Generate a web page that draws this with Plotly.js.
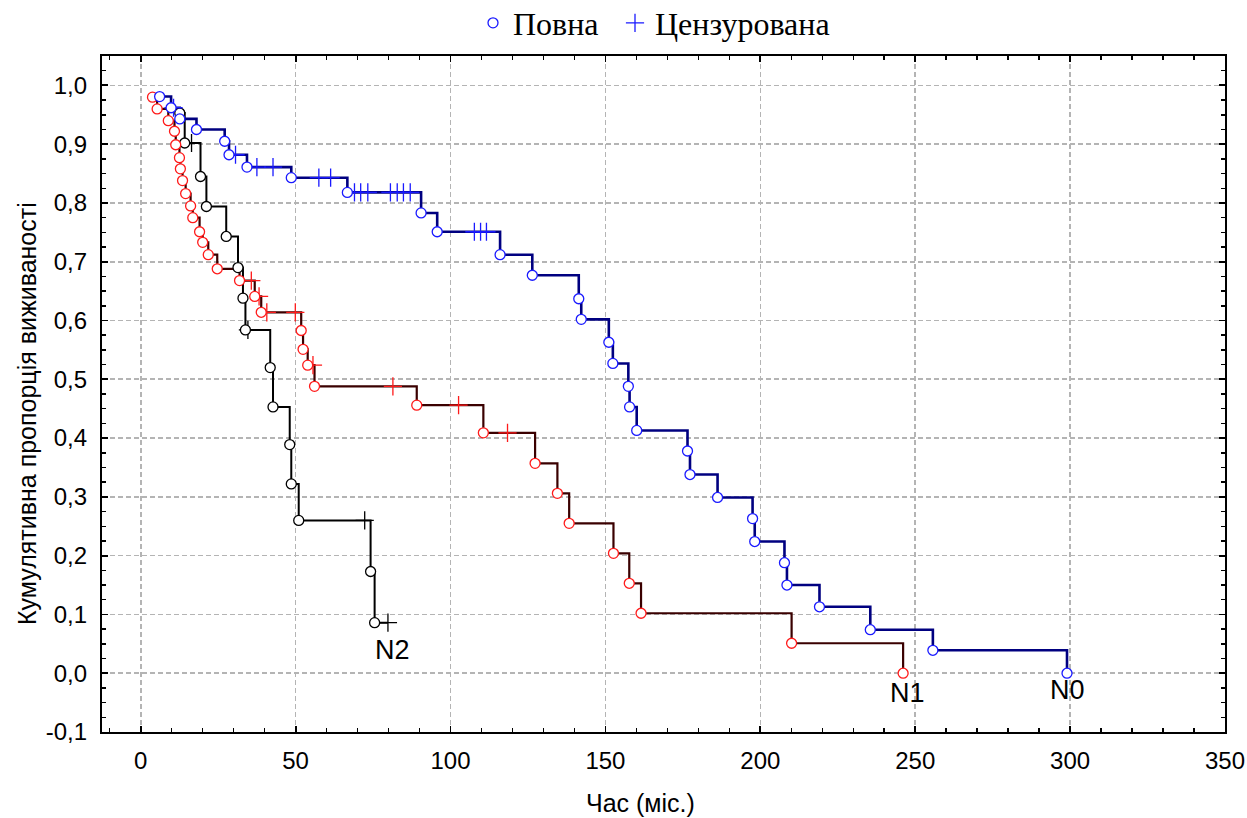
<!DOCTYPE html>
<html>
<head>
<meta charset="utf-8">
<script src="https://cdn.plot.ly/plotly-3.0.1.min.js"></script>
<style>html,body{margin:0;padding:0;background:#fff;}#chart{width:1247px;height:818px;}</style>
</head>
<body>
<div id="chart"></div>
<script>
// ---- Data ----
// Group N0 (blue)
const n0EventT = [6.1, 9.8, 12.6, 18.0, 27.1, 28.5, 34.3, 48.6, 66.7, 90.5, 95.7, 116.0, 126.4, 141.4, 142.2, 151.1, 152.4, 157.4, 157.8, 160.1, 176.5, 177.3, 186.2, 197.5, 198.2, 207.8, 208.6, 219.1, 235.5, 255.7, 299.0];
const n0EventS = [0.981, 0.962, 0.943, 0.925, 0.905, 0.882, 0.861, 0.843, 0.818, 0.783, 0.751, 0.712, 0.677, 0.637, 0.602, 0.563, 0.527, 0.488, 0.453, 0.413, 0.378, 0.338, 0.299, 0.263, 0.224, 0.188, 0.150, 0.113, 0.074, 0.039, 0.0];
const n0CensT  = [10.6, 30.6, 37.5, 42.7, 57.5, 61.3, 69.0, 71.0, 73.3, 80.6, 82.8, 84.8, 87.0, 107.7, 109.7, 111.6];

// Group N1 (red)
const n1EventT = [3.8, 5.3, 8.9, 10.9, 11.3, 12.5, 12.8, 13.5, 14.5, 16.1, 16.8, 19.0, 20.0, 21.8, 24.7, 31.9, 36.8, 38.9, 51.8, 52.4, 53.9, 56.1, 89.1, 110.6, 127.3, 134.5, 138.3, 152.6, 157.7, 161.5, 210.1, 246.1];
const n1EventS = [0.980, 0.960, 0.940, 0.922, 0.899, 0.877, 0.858, 0.838, 0.816, 0.795, 0.775, 0.751, 0.733, 0.712, 0.688, 0.668, 0.641, 0.614, 0.583, 0.551, 0.524, 0.488, 0.456, 0.409, 0.357, 0.306, 0.255, 0.204, 0.153, 0.102, 0.051, 0.0];
const n1CensT  = [35.7, 38.2, 40.7, 49.9, 55.6, 81.4, 102.6, 118.4];

// Group N2 (black)
const n2EventT = [12.6, 14.2, 19.3, 21.2, 27.6, 31.4, 33.0, 33.8, 41.8, 42.7, 48.1, 48.6, 51.0, 74.2, 75.5];
const n2EventS = [0.953, 0.902, 0.845, 0.794, 0.743, 0.690, 0.638, 0.584, 0.520, 0.453, 0.389, 0.322, 0.260, 0.173, 0.086];
const n2CensT  = [16.4, 34.6, 72.3, 79.8];

const xTicks = [0, 50, 100, 150, 200, 250, 300, 350];
const yTicks = [-0.1, 0, 0.1, 0.2, 0.3, 0.4, 0.5, 0.6, 0.7, 0.8, 0.9, 1.0];
const yTickText = ['-0,1', '0,0', '0,1', '0,2', '0,3', '0,4', '0,5', '0,6', '0,7', '0,8', '0,9', '1,0'];
const groupLabels = ['N0', 'N1', 'N2'];
const legendNames = ['Повна', 'Цензурована'];

// ---- helpers ----
function survAt(evT, evS, t) {
  let s = 1;
  for (let i = 0; i < evT.length; i++) { if (evT[i] <= t) s = evS[i]; }
  return s;
}
function stepLine(evT, evS, cT) {
  const pts = evT.map((t, i) => [t, evS[i], 0]);
  cT.forEach(t => pts.push([t, survAt(evT, evS, t), 1]));
  pts.sort((a, b) => a[0] - b[0] || a[2] - b[2]);
  return {x: pts.map(p => p[0]), y: pts.map(p => p[1])};
}

const groups = [
  {evT: n0EventT, evS: n0EventS, cT: n0CensT, line: '#000080', mark: '#1a1aff', lw: 2.6},
  {evT: n1EventT, evS: n1EventS, cT: n1CensT, line: '#3a0000', mark: '#ff1a1a', lw: 2.2},
  {evT: n2EventT, evS: n2EventS, cT: n2CensT, line: '#000000', mark: '#000000', lw: 2.0}
];

const traces = [];
[2, 1, 0].forEach(gi => {
  const g = groups[gi];
  const l = stepLine(g.evT, g.evS, g.cT);
  traces.push({x: l.x, y: l.y, mode: 'lines', line: {shape: 'hv', color: g.line, width: g.lw},
    showlegend: false, hoverinfo: 'skip'});
});
[2, 1, 0].forEach(gi => {
  const g = groups[gi];
  traces.push({x: g.cT, y: g.cT.map(t => survAt(g.evT, g.evS, t)), mode: 'markers',
    name: legendNames[1], showlegend: gi === 0, legendrank: 2,
    marker: {symbol: 'cross-thin', size: 13, color: g.mark, line: {color: g.mark, width: 1.3}}});
  const ev = {x: g.evT, y: g.evS, mode: 'markers',
    name: legendNames[0], showlegend: gi === 0, legendrank: 1,
    marker: {symbol: 'circle', size: 10, color: '#ffffff', line: {color: g.mark, width: 1.3}}};
  if (gi === 0) ev.legendwidth = 97;
  traces.push(ev);
});

const tickFont = {family: 'Liberation Sans, Arial, sans-serif', size: 24, color: '#000'};
const titleFont = {family: 'Liberation Sans, Arial, sans-serif', size: 25, color: '#000'};
const nFont = {family: 'Liberation Sans, Arial, sans-serif', size: 27, color: '#000'};
const layout = {
  width: 1247, height: 818,
  margin: {l: 102, r: 22, t: 56, b: 86, autoexpand: false},
  paper_bgcolor: '#fff', plot_bgcolor: '#fff',
  showlegend: true,
  legend: {orientation: 'h', xref: 'container', yref: 'container', x: 473 / 1247, xanchor: 'left',
    y: 1 - 23 / 818, yanchor: 'middle',
    font: {family: 'Liberation Serif, Times New Roman, serif', size: 32, color: '#000'},
    traceorder: 'normal', itemsizing: 'trace', bgcolor: 'rgba(0,0,0,0)'},
  xaxis: {range: [-12.5, 350], tickvals: xTicks, ticktext: xTicks.map(String),
    showgrid: true, gridcolor: '#b4b4b4', gridwidth: 1.6, griddash: '5px,3px',
    showline: true, linecolor: '#000', linewidth: 2.2, mirror: 'ticks',
    ticks: 'inside', ticklen: 6, tickwidth: 1.8, tickcolor: '#000',
    minor: {dtick: 10, tick0: 0, ticks: 'inside', ticklen: 4, tickwidth: 1.5, tickcolor: '#000', showgrid: false},
    zeroline: false, tickfont: tickFont, ticklabelstandoff: 6, fixedrange: true},
  yaxis: {range: [-0.1, 1.05], tickvals: yTicks, ticktext: yTickText,
    showgrid: true, gridcolor: '#b4b4b4', gridwidth: 1.6, griddash: '5px,3px',
    showline: true, linecolor: '#000', linewidth: 2.2, mirror: 'ticks',
    ticks: 'inside', ticklen: 6, tickwidth: 1.8, tickcolor: '#000',
    minor: {dtick: 0.025, tick0: 0, ticks: 'inside', ticklen: 4, tickwidth: 1.5, tickcolor: '#000', showgrid: false},
    zeroline: false, tickfont: tickFont, ticklabelstandoff: 8, fixedrange: true},
  annotations: [
    {text: 'Час (міс.)', xref: 'paper', yref: 'paper', x: (640 - 102) / 1123, y: -(803 - 732) / 676,
      xanchor: 'center', yanchor: 'middle', showarrow: false, font: titleFont},
    {text: 'Кумулятивна пропорція виживаності', xref: 'paper', yref: 'paper', x: -(102 - 27) / 1123, y: (732 - 414) / 676,
      xanchor: 'center', yanchor: 'middle', textangle: -90, showarrow: false, font: titleFont},
    {text: groupLabels[2], x: 81.3, y: 0.039, xref: 'x', yref: 'y', showarrow: false, font: nFont},
    {text: groupLabels[1], x: 247.5, y: -0.033, xref: 'x', yref: 'y', showarrow: false, font: nFont},
    {text: groupLabels[0], x: 299.2, y: -0.028, xref: 'x', yref: 'y', showarrow: false, font: nFont}
  ]
};

Plotly.newPlot('chart', traces, layout, {displayModeBar: false, staticPlot: true});
</script>
</body>
</html>
